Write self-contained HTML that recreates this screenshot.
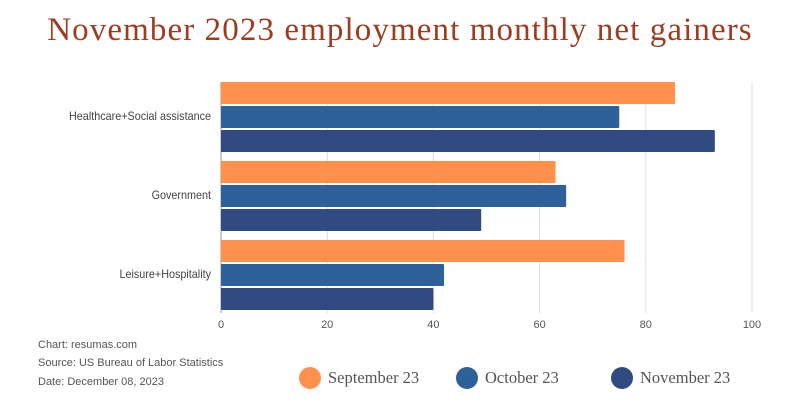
<!DOCTYPE html>
<html><head><meta charset="utf-8"><style>
body{margin:0;background:#fff;width:800px;height:400px;overflow:hidden}
</style></head><body>
<svg width="800" height="400" xmlns="http://www.w3.org/2000/svg">
<text x="400" y="40" text-anchor="middle" font-family="Liberation Serif, serif" font-size="33" letter-spacing="1.1" fill="#9C3D22">November 2023 employment monthly net gainers</text>
<g id="grid"></g><g id="bars"></g><g id="labels"></g>
<g font-family="Liberation Sans, sans-serif" font-size="11" fill="#555">
<text x="38" y="348">Chart: resumas.com</text>
<text x="38" y="366">Source: US Bureau of Labor Statistics</text>
<text x="38" y="385">Date: December 08, 2023</text>
</g>
<g id="legend" font-family="Liberation Serif, serif" font-size="16.5" fill="#555"></g>
</svg>
<script>
const categories=["Healthcare+Social assistance","Government","Leisure+Hospitality"];
const seriesNames=["September 23","October 23","November 23"];
const sep=[85.5,63,76];
const oct=[75,65,42];
const nov=[93,49,40];
const ticks=[0,20,40,60,80,100];
const colors=["#FF914D","#2E6199","#314A82"];
const NS="http://www.w3.org/2000/svg";
const x0=221,x1=752,plotTop=82,groupH=79;
const xs=v=>x0+(v/100)*(x1-x0);
function mk(t,a,p){const e=document.createElementNS(NS,t);for(const k in a)e.setAttribute(k,a[k]);p.appendChild(e);return e;}
const grid=document.getElementById('grid'),bars=document.getElementById('bars'),labels=document.getElementById('labels');
ticks.forEach(t=>{
 const l=mk('line',{x1:xs(t),x2:xs(t),y1:plotTop,y2:313,stroke:t===0?'#999':'#ddd','stroke-width':1},grid);
 
 
 const tx=mk('text',{x:xs(t),y:328,'text-anchor':'middle','font-family':'Liberation Sans, sans-serif','font-size':11,fill:'#555'},labels);
 tx.textContent=t;
 
 
});
const series=[sep,oct,nov];
categories.forEach((c,i)=>{
 const gy=plotTop+i*groupH;
 series.forEach((s,j)=>{
  const r=mk('rect',{x:x0,y:gy+j*24,width:xs(s[i])-x0,height:22,fill:colors[j],rx:1},bars);
  
  
 });
 const t=mk('text',{x:211,y:gy+38,'text-anchor':'end','font-family':'Liberation Sans, sans-serif','font-size':12,fill:'#444'},labels);
 t.textContent=c;
 
 
 try{const w=t.getComputedTextLength();t.setAttribute('textLength',(w*0.9).toFixed(1));t.setAttribute('lengthAdjust','spacingAndGlyphs');}catch(e){}
});
const lg=document.getElementById('legend');
const lx=[310,467,622];
seriesNames.forEach((n,j)=>{
 const c=mk('circle',{cx:lx[j],cy:378,r:11,fill:colors[j]},lg);
 
 
 const t=mk('text',{x:lx[j]+18,y:383},lg);
 t.textContent=n;
 
 
});
</script>
</body></html>
